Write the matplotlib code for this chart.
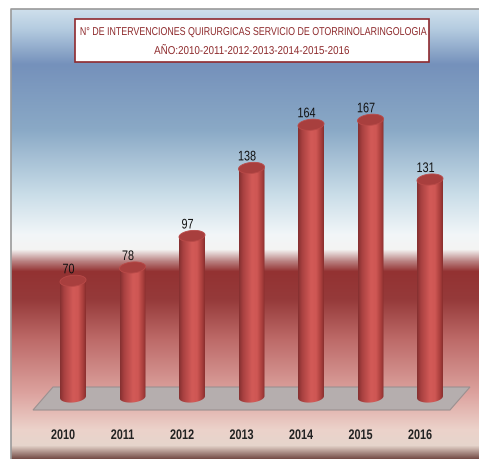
import numpy as np
import matplotlib
matplotlib.use('Agg')
import matplotlib.pyplot as plt
import matplotlib.patheffects as pe
from matplotlib.colors import LinearSegmentedColormap
from matplotlib.patches import PathPatch, Polygon, Rectangle
from matplotlib.path import Path
from matplotlib.transforms import Affine2D

plt.rcParams['font.family'] = ['Liberation Sans', 'DejaVu Sans']

years = ['2010', '2011', '2012', '2013', '2014', '2015', '2016']
values = [70, 78, 97, 138, 164, 167, 131]
title_lines = ['N° DE INTERVENCIONES QUIRURGICAS SERVICIO DE OTORRINOLARINGOLOGIA',
               'AÑO:2010-2011-2012-2013-2014-2015-2016']

W, H = 479, 460
# pixel layout of the picture
X0, DX = 73, 59.5
Y0, DY = 398, 1.66

# background colours, top to bottom of the panel (pixel row, colour)
bg_stops = [(10, '#cfe0ec'), (30, '#b4cbe0'), (65, '#7591bb'), (130, '#8aa9c6'),
            (195, '#c9dde8'), (235, '#f2f6f8'), (250, '#f4f4f3'), (262, '#b98080'),
            (272, '#933232'), (300, '#963a3a'), (340, '#bd6a68'), (395, '#dda4a0'),
            (430, '#ecd2ca'), (446, '#e6d5cc'), (460, '#6e4540')]
cyl_stops = [(0.0, '#843030'), (0.15, '#a84040'), (0.5, '#d25a57'), (0.7, '#cf5754'),
             (0.9, '#a83e3c'), (1.0, '#8a2f2e')]


# squeezes a text sideways, the fonts here have no condensed cut
class Condense(pe.AbstractPathEffect):
    def __init__(self, text_x, factor):
        super().__init__()
        self.text_x = text_x
        self.factor = factor

    def draw_path(self, renderer, gc, tpath, affine, rgbFace=None):
        cx = ax.transData.transform((self.text_x, 0))[0]
        squeeze = Affine2D().translate(-cx, 0).scale(self.factor, 1).translate(cx, 0)
        renderer.draw_path(gc, tpath, affine + squeeze, rgbFace)


fig = plt.figure(figsize=(W / 100, H / 100), dpi=100)
ax = fig.add_axes([0, 0, 1, 1])
ax.axis('off')


def px(x, y):
    return (x - X0) / DX, (Y0 - y) / DY


def narrow_text(x, y, s, size, color, factor, weight='normal', z=5):
    ax.text(x, y, s, ha='center', va='center', fontsize=size, color=color, fontweight=weight,
            zorder=z, path_effects=[Condense(x, factor)])


# panel background
rows = np.arange(10, 460)
pos = [s[0] for s in bg_stops]
rgb = np.array([matplotlib.colors.to_rgb(s[1]) for s in bg_stops])
grad = np.stack([np.interp(rows, pos, rgb[:, i]) for i in range(3)], axis=1)[:, None, :]
x1, y1 = px(11, 460)
x2, y2 = px(479, 10)
ax.imshow(grad, extent=[x1, x2, y1, y2], aspect='auto', zorder=0, interpolation='bilinear')
ax.plot([x1, x1, x2], [y1, y2, y2], color='#9a9a9a', lw=1.2, zorder=1)

# floor
ax.add_patch(Polygon([px(33, 411), px(53, 388), px(470, 388), px(450, 411)],
                     facecolor='#b5aeae', edgecolor='#9b9090', lw=0.8, zorder=2))

# cylinders
cyl_cmap = LinearSegmentedColormap.from_list('cyl', cyl_stops)
half_w = 13 / DX
ell_h = 11 / DY
tilt = 1 / DY
t = np.linspace(0, 2 * np.pi, 60)
for i, v in enumerate(values):
    tb = t[t <= np.pi]
    bottom = np.column_stack([i + half_w * np.cos(tb + np.pi),
                              -ell_h / 2 * np.sin(tb) - tilt * np.cos(tb)])
    verts = np.vstack([[(i - half_w, v)], bottom, [(i + half_w, v)], [(i - half_w, v)]])
    body = PathPatch(Path(verts, closed=True), facecolor='none', edgecolor='none', zorder=3)
    ax.add_patch(body)
    im = ax.imshow(np.linspace(0, 1, 64)[None, :], cmap=cyl_cmap, vmin=0, vmax=1,
                   extent=[i - half_w, i + half_w, -ell_h, v], aspect='auto', zorder=3)
    im.set_clip_path(body)
    top = np.column_stack([i + half_w * np.cos(t), v + ell_h / 2 * np.sin(t) + tilt * np.cos(t)])
    ax.add_patch(Polygon(top, facecolor='#a83f3e', edgecolor='#b94a48', lw=0.6, zorder=4))
    narrow_text(i - 4.5 / DX, v + 11.5 / DY, str(v), 10, '#111111', 0.78)
    narrow_text(i - 10 / DX, px(0, 436)[1], years[i], 10, '#222222', 0.78, weight='bold')

# title box
bx, by = px(75, 63)
bx2, by2 = px(429, 20)
ax.add_patch(Rectangle((bx, by), bx2 - bx, by2 - by, facecolor='white', edgecolor='#8f2a2f',
                       lw=1.2, zorder=6))
cx = px(252, 0)[0]
narrow_text(cx, px(0, 33)[1], title_lines[0], 8.2, '#8e2a2c', 0.777, z=7)
narrow_text(cx, px(0, 52)[1], title_lines[1], 8.2, '#8e2a2c', 0.86, z=7)

ax.set_xlim(-X0 / DX, (W - X0) / DX)
ax.set_ylim(-(H - Y0) / DY, Y0 / DY)
fig.savefig('out.png', dpi=100)
